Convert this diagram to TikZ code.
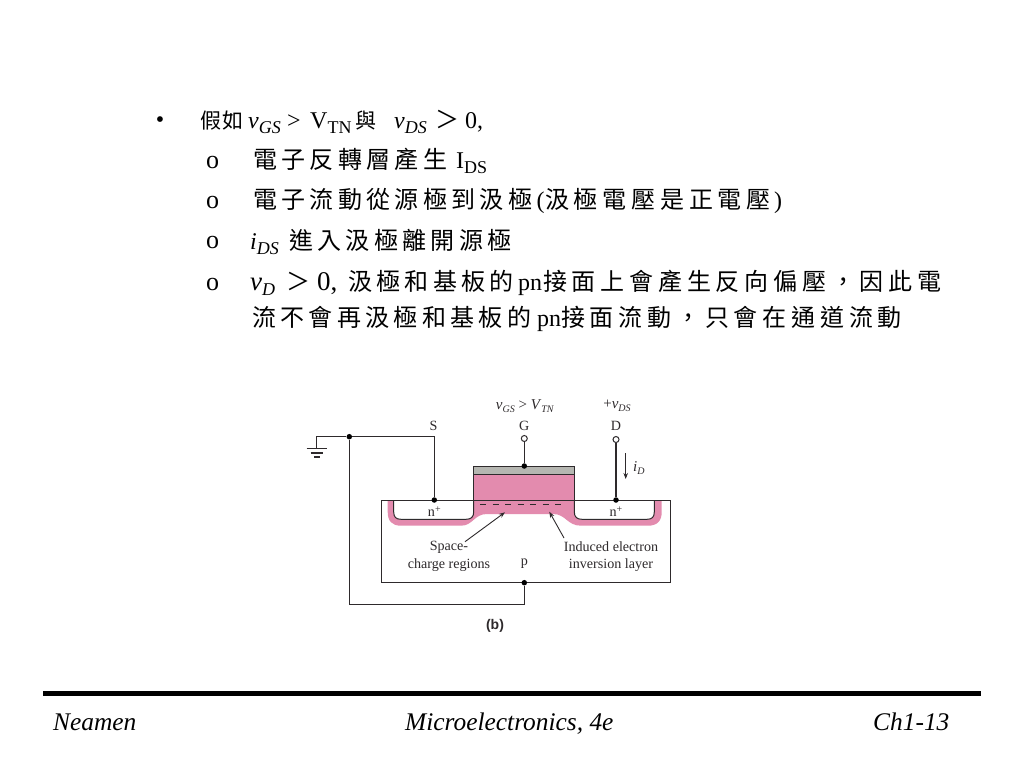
\documentclass[tikz,border=0pt]{standalone}
\usepackage{fontspec}
\usetikzlibrary{arrows.meta}
\setmainfont{Liberation Serif}
\setsansfont{Liberation Sans}
\newfontfamily\cjkA[LetterSpace=18]{Noto Sans CJK TC}
\newfontfamily\cjkW[LetterSpace=20]{Noto Sans CJK TC}
\newfontfamily\cjkB[LetterSpace=8]{Noto Sans CJK TC}
\newcommand{\Ck}[1]{{\fontsize{24}{26}\selectfont\cjkA #1}}
\newcommand{\Cw}[1]{{\fontsize{24}{26}\selectfont\cjkW #1}}
\newcommand{\Sb}[1]{\raisebox{-5pt}{\fontsize{18}{19}\selectfont #1}}
\newcommand{\Tb}[1]{\raisebox{-2.5pt}{\fontsize{10}{11}\selectfont\textit{#1}}}
\newcommand{\tx}[4]{\node[txt] (#1) at (#2,#3) {#4};}
\definecolor{pinkfill}{HTML}{E38BAE}
\definecolor{gatefill}{HTML}{B5B6B1}
\definecolor{wire}{HTML}{2E2A2C}
\tikzset{
  txt/.style={anchor=base west,inner sep=0pt,font=\fontsize{24}{26}\selectfont},
  mk/.style={anchor=base west,inner sep=0pt,font=\fontsize{26}{28}\selectfont},
  lab/.style={inner sep=0pt,text=wire,font=\fontsize{14.1}{16}\selectfont},
  vlab/.style={inner sep=0pt,text=wire,font=\fontsize{15}{17}\selectfont},
  foot/.style={anchor=base west,inner sep=0pt,font=\fontsize{25.4}{27}\selectfont\itshape},
  wireline/.style={draw=wire,line width=1.3pt},
  thinline/.style={draw=wire,line width=1pt},
  dot/.style={circle,fill=black,inner sep=0pt,minimum size=5.5pt},
  term/.style={circle,draw=wire,fill=white,line width=1pt,inner sep=0pt,minimum size=6pt},
  lead/.style={draw=wire,line width=0.9pt,-{Stealth[length=6pt,width=4.5pt]}}
}
\begin{document}
\begin{tikzpicture}[x=1pt,y=-1pt]
\useasboundingbox (0,0) rectangle (1024,768);
\fill[white] (0,0) rectangle (1024,768);
% text block
\node[inner sep=0pt,font=\fontsize{24}{26}\selectfont] (bul) at (160,122.5) {•};
\node[txt,font=\fontsize{21}{22}\selectfont] (a1) at (200,128) {\cjkB 假如};
\tx{a2}{248}{128}{\textit{v}\Sb{\textit{GS}}}
\tx{a3}{287}{128}{>}
\tx{a4}{310}{128}{V\Sb{TN}}
\node[txt,font=\fontsize{21}{22}\selectfont] (a5) at (355,128) {\cjkB 與};
\tx{a6}{394}{128}{\textit{v}\Sb{\textit{DS}}}
\tx{a7}{435}{128}{\Ck{＞}}
\tx{a8}{465}{128}{0,}
\node[mk] (m2) at (206,168) {o};
\tx{b1}{253}{168.5}{\Ck{電子反轉層產生}}
\tx{b2}{456}{168.5}{I\Sb{DS}}
\node[mk] (m3) at (206,208.3) {o};
\tx{c1}{253}{208.5}{\Ck{電子流動從源極到汲極}}
\tx{c2}{536.5}{208.5}{(}
\tx{c3}{545}{208.5}{\Cw{汲極電壓是正電壓}}
\tx{c4}{774}{208.5}{)}
\node[mk] (m4) at (206,248.5) {o};
\tx{d1}{250}{249}{\textit{i}\Sb{\textit{DS}}}
\tx{d2}{289}{249}{\Ck{進入汲極離開源極}}
\node[mk] (m5) at (206,290) {o};
\tx{e1}{250}{290}{{\fontsize{27}{28}\selectfont\textit{v}}\Sb{\textit{D}}}
\tx{e2}{286}{290}{\Ck{＞}}
\node[txt,font=\fontsize{27}{28}\selectfont] (e3) at (317,290) {0,};
\tx{e4}{348}{290}{\Ck{汲極和基板的}}
\tx{e5}{518}{290}{pn}
\tx{e6}{543}{290}{\Cw{接面上會產生反向偏壓，因此電}}
\tx{f1}{252}{326.5}{\Ck{流不會再汲極和基板的}}
\tx{f2}{537}{326.5}{pn}
\tx{f3}{561}{326.5}{\Cw{接面流動，只會在通道流動}}
% device: pink regions
\fill[pinkfill] (387.7,500) -- (387.7,512) .. controls (387.7,521) and (392,525.7) .. (401,525.7)
  -- (461,525.7) .. controls (473,525.7) and (474,514) .. (487,514)
  -- (553,514) .. controls (566,514) and (567,525.7) .. (581,525.7)
  -- (648,525.7) .. controls (657,525.7) and (661.7,521) .. (661.7,512) -- (661.7,500) -- cycle;
\fill[pinkfill] (473.7,474.3) rectangle (574.3,500);
% wells
\draw[thinline,fill=white] (393.7,500) -- (393.7,512) .. controls (393.7,517) and (396,519.3) .. (401,519.3)
  -- (466,519.3) .. controls (471,519.3) and (473.7,517) .. (473.7,512) -- (473.7,500);
\draw[thinline,fill=white] (574.3,500) -- (574.3,512) .. controls (574.3,517) and (577,519.3) .. (582,519.3)
  -- (647,519.3) .. controls (652,519.3) and (654.3,517) .. (654.3,512) -- (654.3,500);
% substrate and gate
\draw[thinline] (381,500) rectangle (670,582.7);
\draw[thinline,fill=gatefill] (473.7,466) rectangle (574.3,474.3);
\draw[thinline] (473.7,474.3) -- (473.7,500) (574.3,474.3) -- (574.3,500);
\draw[draw=wire,line width=0.8pt,dash pattern=on 6pt off 6.5pt] (480,504.3) -- (566.7,504.3);
% terminals and junctions
\node[dot] (sc) at (434.3,500) {};
\node[dot] (dc) at (616,500) {};
\node[dot] (gc) at (524.3,466) {};
\node[dot] (bc) at (524.3,582.7) {};
\node[dot] (jn) at (349.3,436.7) {};
\node[term] (gt) at (524.3,438.5) {};
\node[term] (dt) at (616,439.5) {};
\coordinate (stop) at (434.3,436.7);
\coordinate (gnd) at (316.7,448.5);
\coordinate (blow) at (349.3,604.3);
\draw[wireline] (gnd) |- (jn) -- (stop) -- (sc);
\draw[wireline] (jn) -- (blow) -| (bc);
\draw[wireline] (gt) -- (gc);
\draw[wireline] (dt) -- (dc);
\coordinate (g1a) at (306.7,448.5); \coordinate (g1b) at (327.3,448.5);
\coordinate (g2a) at (310.7,453); \coordinate (g2b) at (323.3,453);
\coordinate (g3a) at (314,457); \coordinate (g3b) at (320,457);
\draw[wireline] (g1a) -- (g1b) (g2a) -- (g2b) (g3a) -- (g3b);
% current arrow
\coordinate (ia) at (625.7,453); \coordinate (ib) at (625.7,479);
\draw[lead] (ia) -- (ib);
% leader arrows
\coordinate (sa) at (465,541.7); \coordinate (sb) at (505,512.3);
\coordinate (ta) at (564,538); \coordinate (tb) at (549.3,511.7);
\draw[lead] (sa) -- (sb);
\draw[lead] (ta) -- (tb);
% labels
\node[lab] (ls) at (433.5,425.5) {S};
\node[lab] (lg) at (524.3,425.5) {G};
\node[lab] (ld) at (616,425.5) {D};
\node[vlab] (lv) at (525,406) {\textit{v}\Tb{GS} > \textit{V}\Tb{TN}};
\node[vlab] (lv2) at (617,406) {+\textit{v}\Tb{DS}};
\node[vlab,anchor=west] (li) at (633,468) {\textit{i}\Tb{D}};
\node[lab] (n1) at (434.3,511.5) {n\raisebox{4pt}{\fontsize{10}{11}\selectfont +}};
\node[lab] (n2) at (616,511.5) {n\raisebox{4pt}{\fontsize{10}{11}\selectfont +}};
\node[lab] (sp1) at (449,547) {Space-};
\node[lab] (sp2) at (449,565) {charge regions};
\node[lab] (in1) at (611,547) {Induced electron};
\node[lab] (in2) at (611,565) {inversion layer};
\node[lab] (lp) at (524.5,563.5) {p};
\node[inner sep=0pt,text=wire,font=\fontsize{14}{16}\selectfont\sffamily\bfseries] (cap) at (495,626) {(b)};
% footer
\coordinate (fa) at (43,693.5); \coordinate (fb) at (981,693.5);
\draw[line width=5pt,black] (fa) -- (fb);
\node[foot] (f-a) at (53,730.5) {Neamen};
\node[foot] (f-b) at (405,730.5) {Microelectronics, 4e};
\node[foot] (f-c) at (873,730.5) {Ch1-13};
\end{tikzpicture}
\end{document}
